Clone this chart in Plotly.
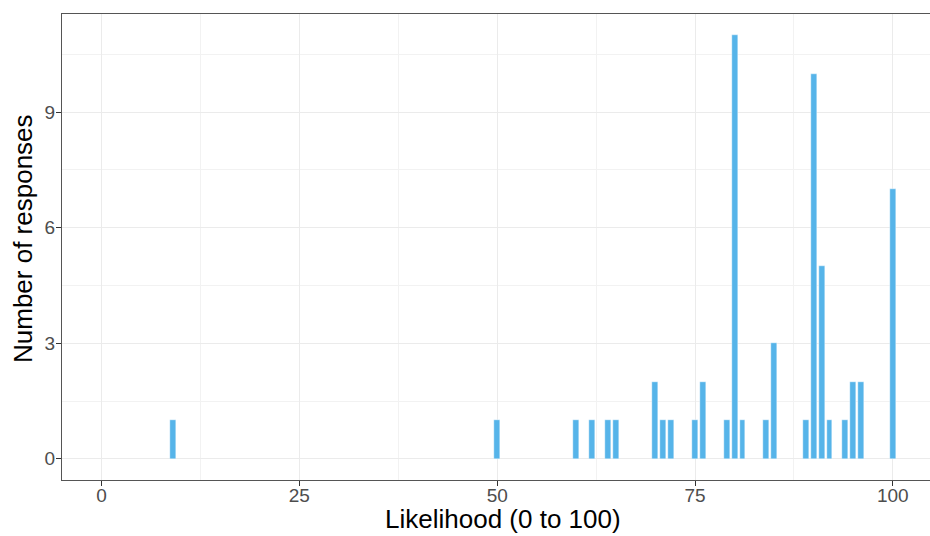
import plotly.graph_objects as go

# likelihood values and counts
likelihood = [9, 50, 60, 62, 64, 65, 70, 71, 72, 75, 76, 79, 80, 81, 84, 85,
              89, 90, 91, 92, 94, 95, 96, 100]
responses = [1, 1, 1, 1, 1, 1, 2, 1, 1, 1, 2, 1, 11, 1, 1, 3,
             1, 10, 5, 1, 1, 2, 2, 7]

x_ticks = [0, 25, 50, 75, 100]
y_ticks = [0, 3, 6, 9]

fig = go.Figure()
fig.add_trace(go.Bar(
    x=likelihood,
    y=responses,
    width=0.75,
    marker_color='#56B4E9',
    marker_line=dict(color='white', width=0.4),
    showlegend=False
))

axis_font = dict(family="Liberation Sans, Arial, sans-serif", size=19, color="#4D4D4D")
title_font = dict(family="Liberation Sans, Arial, sans-serif", size=26, color="black")

fig.update_layout(
    width=930, height=536,
    margin=dict(l=62, r=0, t=14, b=56, pad=0),
    paper_bgcolor='white',
    plot_bgcolor='white',
    bargap=0,
    xaxis=dict(
        range=[-5, 104.7],
        automargin=False,
        tickvals=x_ticks,
        ticks='outside', ticklen=5, tickcolor='#333333',
        tickfont=axis_font, ticklabelstandoff=-7,
        showgrid=True, gridcolor='#EBEBEB', gridwidth=1,
        minor=dict(tickvals=[12.5, 37.5, 62.5, 87.5], showgrid=True,
                   gridcolor='#F2F2F2', gridwidth=0.8),
        showline=True, linecolor='#555555', linewidth=1, mirror=True,
        zeroline=False,
    ),
    yaxis=dict(
        range=[-0.55, 11.55],
        automargin=False,
        tickvals=y_ticks,
        ticks='outside', ticklen=5, tickcolor='#333333',
        tickfont=axis_font, ticklabelstandoff=-3,
        showgrid=True, gridcolor='#EBEBEB', gridwidth=1,
        minor=dict(tickvals=[1.5, 4.5, 7.5, 10.5], showgrid=True,
                   gridcolor='#F2F2F2', gridwidth=0.8),
        showline=True, linecolor='#555555', linewidth=1,
        zeroline=False,
    ),
)

# axis titles placed as annotations so they sit where the reference has them
fig.add_annotation(text='Likelihood (0 to 100)', font=title_font,
                   xref='paper', yref='paper', x=(503 - 62) / 868, y=-39 / 466,
                   xanchor='center', yanchor='middle', showarrow=False)
fig.add_annotation(text='Number of responses', font=title_font, textangle=-90,
                   xref='paper', yref='paper', x=-39 / 868, y=(480 - 239) / 466,
                   xanchor='center', yanchor='middle', showarrow=False)

fig.write_html("out.html", config={'displayModeBar': False},
               post_script="document.body.style.margin='0';")
